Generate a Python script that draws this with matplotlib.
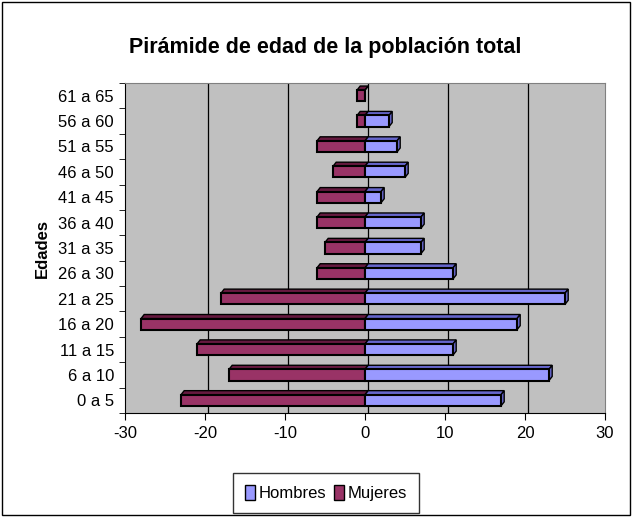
import matplotlib
matplotlib.use("Agg")
import matplotlib.pyplot as plt
from matplotlib.patches import Rectangle
import numpy as np

plt.rcParams['font.family'] = ['Liberation Sans', 'DejaVu Sans']

edades = ["0 a 5", "6 a 10", "11 a 15", "16 a 20", "21 a 25", "26 a 30", "31 a 35",
          "36 a 40", "41 a 45", "46 a 50", "51 a 55", "56 a 60", "61 a 65"]
hombres = [17, 23, 11, 19, 25, 11, 7, 7, 2, 5, 4, 3, 0]
mujeres = [-23, -17, -21, -28, -18, -6, -5, -6, -6, -4, -6, -1, -1]

C_H, C_H_DARK = "#9999FF", "#6666CC"
C_M, C_M_DARK = "#993366", "#66193F"

fig = plt.figure(figsize=(6.32, 5.17), dpi=100)
ax = fig.add_axes([125 / 632, 1 - 413 / 517, 480 / 632, 330 / 517])
ax.set_facecolor("#C0C0C0")

y = np.arange(len(edades))
h = 0.44
dx, dy = 0.4, 0.16


def bars_3d(vals, c_front, c_dark, side):
    for yi, v in zip(y, vals):
        top = yi + h / 2
        ax.fill([0, v, v + dx, dx], [top, top, top + dy, top + dy],
                color=c_dark, ec="black", lw=1.0, zorder=3)
        if side and v != 0:
            ax.fill([v, v + dx, v + dx, v], [yi - h / 2, yi - h / 2 + dy, top + dy, top],
                    color=c_dark, ec="black", lw=1.0, zorder=3)
    ax.barh(y, vals, height=h, color=c_front, edgecolor="black", lw=1.5, zorder=4)


bars_3d(mujeres, C_M, C_M_DARK, False)
bars_3d(hombres, C_H, C_H_DARK, True)

ax.set_xlim(-30, 30)
ax.set_ylim(-0.5, len(edades) - 0.5)
ax.set_xticks(np.arange(-30, 31, 10))
ax.set_xticklabels([str(t) for t in range(-30, 31, 10)], fontsize=12)
ax.set_yticks(y)
ax.set_yticklabels(edades, fontsize=12)
ax.set_yticks(np.arange(-0.5, len(edades), 1), minor=True)
ax.tick_params(axis="y", which="major", length=0, pad=8)
ax.tick_params(axis="y", which="minor", length=4, direction="out")
ax.tick_params(axis="x", length=5, direction="out", pad=4)
for xv in range(-20, 21, 10):
    ax.axvline(xv + 0.4, color="black", lw=0.9, zorder=1)
for s in ["top", "right"]:
    ax.spines[s].set_color("#808080")
ax.spines["left"].set_color("black")
ax.spines["bottom"].set_color("black")

ax.set_ylabel("Edades", fontsize=12, fontweight="bold", labelpad=6)
fig.text(0.515, 1 - 47 / 517, "Pirámide de edad de la población total",
         ha="center", va="center", fontsize=15.5, fontweight="bold")

handles = [Rectangle((0, 0), 1, 1, fc=C_H, ec="black"),
           Rectangle((0, 0), 1, 1, fc=C_M, ec="black")]
fig.legend(handles, ["Hombres", "Mujeres"], loc="center", bbox_to_anchor=(326 / 632, 1 - 493 / 517),
           ncol=2, fontsize=12, frameon=True, fancybox=False, edgecolor="black",
           handlelength=0.6, handleheight=1.0, handletextpad=0.2, columnspacing=0.5,
           borderpad=0.7)

fig.patches.append(Rectangle((0.003, 0.003), 0.994, 0.994, transform=fig.transFigure,
                             fill=False, ec="black", lw=1))
fig.savefig("out.png", dpi=100)
